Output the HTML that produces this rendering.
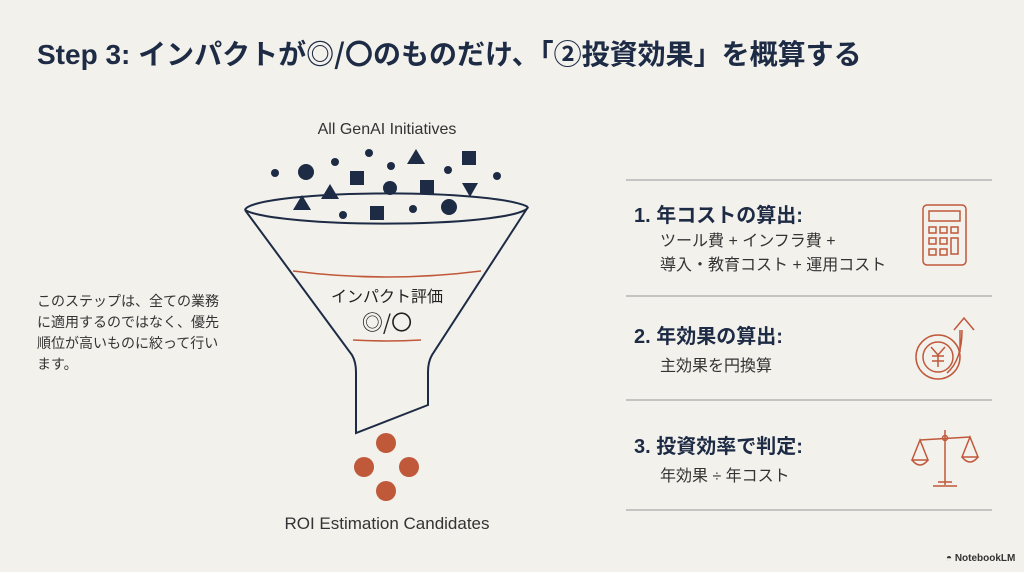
<!DOCTYPE html>
<html><head><meta charset="utf-8"><style>
html,body{margin:0;padding:0;}
body{width:1024px;height:572px;background:#f3f1ec;position:relative;overflow:hidden;font-family:"Liberation Sans","Noto Sans CJK JP",sans-serif;color:#222;}
.t{position:absolute;white-space:nowrap;}
.n{font-family:"Noto Sans CJK JP",sans-serif;}
</style></head><body>
<div class="t" style="left:37px;top:33px;font-size:28px;font-weight:bold;color:#1d2b45;">Step 3: インパクトが<span class="n">◎/〇</span>のものだけ、「②投資効果」を概算する</div>
<div class="t" style="left:37px;top:291px;font-size:14px;line-height:21px;color:#333;">このステップは、全ての業務<br>に適用するのではなく、優先<br>順位が高いものに絞って行い<br>ます。</div>
<svg width="1024" height="572" style="position:absolute;left:0;top:0">
<text x="387" y="134" text-anchor="middle" font-size="16" fill="#333" font-family="Liberation Sans, Noto Sans CJK JP, sans-serif">All GenAI Initiatives</text>
<text x="387" y="529" text-anchor="middle" font-size="17" fill="#333" font-family="Liberation Sans, Noto Sans CJK JP, sans-serif">ROI Estimation Candidates</text>
<g fill="none" stroke="#1d2b45" stroke-width="2">
<path d="M245,210 A143,17 0 0 1 528,207"/>
<path d="M245,210 A143,17 0 0 0 528,207"/>
<path d="M245,210 L352,355 Q356,362 356,372 L356,433 L428,405 L428,372 Q428,362 432,355 L528,207"/>
</g>
<g fill="#1d2b45">
<circle cx="275" cy="173" r="4"/><circle cx="306" cy="172" r="8"/><circle cx="335" cy="162" r="4"/><circle cx="369" cy="153" r="4"/><circle cx="391" cy="166" r="4"/><circle cx="390" cy="188" r="7"/><circle cx="448" cy="170" r="4"/><circle cx="497" cy="176" r="4"/><circle cx="343" cy="215" r="4"/><circle cx="413" cy="209" r="4"/><circle cx="449" cy="207" r="8"/>
<rect x="350" y="171" width="14" height="14"/><rect x="462" y="151" width="14" height="14"/><rect x="420" y="180" width="14" height="14"/><rect x="370" y="206" width="14" height="14"/>
<path d="M416,149 L425,164 L407,164Z"/><path d="M330,184 L339,199 L321,199Z"/><path d="M302,195 L311,210 L293,210Z"/><path d="M462,183 L478,183 L470,197Z"/>
</g>
<path d="M293,271 Q387,283 481,271" fill="none" stroke="#c0583a" stroke-width="1.6"/>
<path d="M353,340 Q387,342 421,340" fill="none" stroke="#c0583a" stroke-width="1.6"/>
<text x="387" y="302" text-anchor="middle" font-size="16" fill="#222" font-family="Noto Sans CJK JP, sans-serif">インパクト評価</text>
<text x="387" y="330" text-anchor="middle" font-size="21" fill="#222" font-family="Noto Sans CJK JP, sans-serif">◎/〇</text>
<g fill="#c0583a"><circle cx="386" cy="443" r="10"/><circle cx="364" cy="467" r="10"/><circle cx="409" cy="467" r="10"/><circle cx="386" cy="491" r="10"/></g>
<g stroke="#aaa" stroke-width="1.2"><line x1="626" y1="180" x2="992" y2="180"/><line x1="626" y1="296" x2="992" y2="296"/><line x1="626" y1="400" x2="992" y2="400"/><line x1="626" y1="510" x2="992" y2="510"/></g>
<g fill="none" stroke="#c0583a" stroke-width="1.5">
<rect x="923" y="205" width="43" height="60" rx="4"/><rect x="929" y="211" width="31" height="10"/>
<rect x="929" y="227" width="7" height="6"/><rect x="940" y="227" width="7" height="6"/><rect x="951" y="227" width="7" height="6"/>
<rect x="929" y="238" width="7" height="6"/><rect x="940" y="238" width="7" height="6"/><rect x="951" y="238" width="7" height="16"/>
<rect x="929" y="249" width="7" height="6"/><rect x="940" y="249" width="7" height="6"/>
<circle cx="938" cy="357" r="22"/><circle cx="938" cy="357" r="15"/>
<path d="M938,367 L938,355 M931,347 L938,355 L945,347 M932,356 L944,356 M932,361 L944,361" />
<path d="M947,373 Q962,360 962,330 M954,330 L964,318 L974,330 M960,330 L960,352"/>
<line x1="945" y1="430" x2="945" y2="485"/><line x1="920" y1="440" x2="970" y2="437"/>
<line x1="933" y1="486" x2="957" y2="486"/><line x1="938" y1="482" x2="952" y2="482"/>
<path d="M920,440 L912,460 L928,460Z M912,460 Q920,470 928,460"/>
<path d="M970,437 L962,457 L978,457Z M962,457 Q970,467 978,457"/>
<circle cx="945" cy="438" r="2.5"/>
</g>
</svg>
<div class="t" style="left:634px;top:199px;font-size:20px;font-weight:bold;color:#1d2b45;">1. 年コストの算出:</div>
<div class="t" style="left:660px;top:230px;font-size:16px;line-height:24px;color:#333;">ツール費 + インフラ費 +<br>導入・教育コスト + 運用コスト</div>
<div class="t" style="left:634px;top:320px;font-size:20px;font-weight:bold;color:#1d2b45;">2. 年効果の算出:</div>
<div class="t" style="left:660px;top:352px;font-size:16px;color:#333;">主効果を円換算</div>
<div class="t" style="left:634px;top:430px;font-size:20px;font-weight:bold;color:#1d2b45;">3. 投資効率で判定:</div>
<div class="t" style="left:660px;top:462px;font-size:16px;color:#333;">年効果 ÷ 年コスト</div>
<div class="t" style="left:946px;top:553px;font-size:10px;font-weight:bold;color:#333;">◓ NotebookLM</div>
</body></html>
